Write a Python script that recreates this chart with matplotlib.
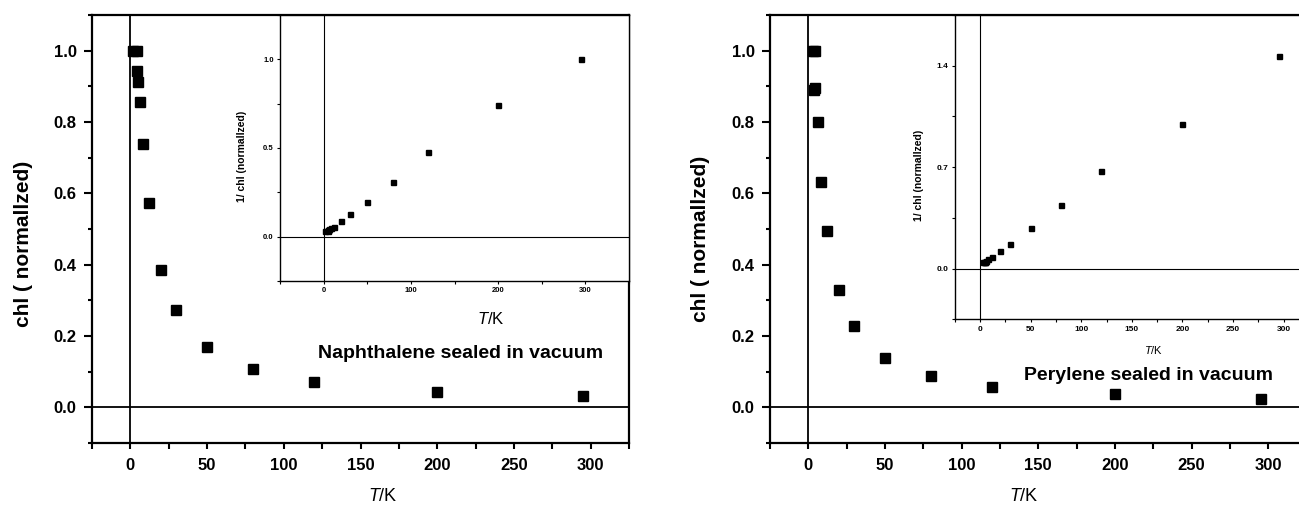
import numpy as np
import matplotlib
matplotlib.use("Agg")
import matplotlib.pyplot as plt
from matplotlib.ticker import MultipleLocator

plt.rcParams['font.family'] = ['Liberation Sans', 'DejaVu Sans']
plt.rcParams['mathtext.fontset'] = 'custom'
plt.rcParams['mathtext.it'] = 'Liberation Sans:italic'
plt.rcParams['mathtext.rm'] = 'Liberation Sans'

# naphthalene
naph_T = [2, 4.5, 4.5, 5, 6, 8, 12, 20, 30, 50, 80, 120, 200, 295]
naph_chi = [1.0, 1.0, 0.942, 0.911, 0.856, 0.739, 0.574, 0.384, 0.272, 0.169, 0.107, 0.071, 0.044, 0.031]
naph_inv = [0.032, 0.034, 0.036, 0.040, 0.043, 0.047, 0.057, 0.089, 0.126, 0.198, 0.311, 0.475, 0.740, 1.0]

# perylene
pery_T = [3, 4.5, 4, 4.5, 6, 8, 12, 20, 30, 50, 80, 120, 200, 295]
pery_chi = [1.0, 1.0, 0.889, 0.896, 0.799, 0.632, 0.494, 0.330, 0.227, 0.137, 0.089, 0.058, 0.037, 0.024]
pery_inv = [0.042, 0.044, 0.046, 0.048, 0.055, 0.065, 0.081, 0.120, 0.173, 0.282, 0.441, 0.672, 1.0, 1.467]

W, H = 1299, 505


def px_axes(fig, x0, y0, x1, y1):
    # pixel box (top-left origin) -> figure fraction
    return fig.add_axes([x0 / W, (H - y1) / H, (x1 - x0) / W, (y1 - y0) / H])


def main_panel(ax, T, chi, note, note_xy, xlab_x, ylab_x, ylab_y):
    ax.axhline(0, color='k', lw=1.3, zorder=1)
    ax.axvline(0, color='k', lw=1.3, zorder=1)
    ax.plot(T, chi, 's', color='k', ms=6.5, zorder=3)
    ax.set_xlim(-25, 325)
    ax.set_ylim(-0.1, 1.1)
    ax.xaxis.set_major_locator(MultipleLocator(50))
    ax.xaxis.set_minor_locator(MultipleLocator(25))
    ax.yaxis.set_major_locator(MultipleLocator(0.2))
    ax.yaxis.set_minor_locator(MultipleLocator(0.1))
    ax.yaxis.set_major_formatter(lambda v, p: f"{v:.1f}")
    ax.tick_params(which='both', direction='out', width=1.5)
    ax.tick_params(axis='y', which='major', length=6, labelsize=12, pad=5)
    ax.tick_params(axis='y', which='minor', length=3)
    ax.tick_params(axis='x', which='both', length=4.5, labelsize=12, pad=6)
    for t in ax.get_xticklabels() + ax.get_yticklabels():
        t.set_fontweight('bold')
    for s in ax.spines.values():
        s.set_linewidth(1.6)
    ax.set_xlabel(r"$\mathit{T}$/K", fontsize=13)
    ax.xaxis.set_label_coords(xlab_x, -0.126)
    ax.xaxis.label.set_verticalalignment('center')
    ax.set_ylabel("chl ( normallzed)", fontsize=15, fontweight='bold')
    ax.yaxis.set_label_coords(ylab_x, ylab_y)
    ax.yaxis.label.set_verticalalignment('center')
    ax.text(note_xy[0], note_xy[1], note, fontsize=14, fontweight='bold',
            ha='center', va='center')


def inset_panel(ax, T, inv, xlim, ylim, xmaj, ymaj, lab_size, xlab_xy, ylab_xy, xlab_size):
    ax.axhline(0, color='k', lw=0.8, zorder=1)
    ax.axvline(0, color='k', lw=0.8, zorder=1)
    ax.plot(T, inv, 's', color='k', ms=3.6, zorder=3)
    ax.set_xlim(*xlim)
    ax.set_ylim(*ylim)
    ax.xaxis.set_major_locator(MultipleLocator(xmaj))
    ax.xaxis.set_minor_locator(MultipleLocator(xmaj / 2))
    ax.yaxis.set_major_locator(MultipleLocator(ymaj))
    ax.yaxis.set_minor_locator(MultipleLocator(ymaj / 2))
    ax.yaxis.set_major_formatter(lambda v, p: f"{v:.1f}")
    ax.tick_params(which='both', direction='out', width=0.8, length=2.5,
                   labelsize=lab_size, pad=2)
    for t in ax.get_xticklabels() + ax.get_yticklabels():
        t.set_fontweight('bold')
    for s in ax.spines.values():
        s.set_linewidth(1.0)
    ax.set_xlabel(r"$\mathit{T}$/K", fontsize=xlab_size)
    ax.xaxis.set_label_coords(*xlab_xy)
    ax.xaxis.label.set_verticalalignment('center')
    ax.set_ylabel("1/ chl (normallzed)", fontsize=7.5, fontweight='bold')
    ax.yaxis.set_label_coords(*ylab_xy)
    ax.yaxis.label.set_verticalalignment('center')


fig = plt.figure(figsize=(W / 100, H / 100), dpi=100)

ax1 = px_axes(fig, 92, 15, 629, 443)
main_panel(ax1, naph_T, naph_chi, "Naphthalene sealed in vacuum", (215, 0.150),
           0.542, -0.127, 0.465)
in1 = px_axes(fig, 280, 15, 629, 281)
inset_panel(in1, naph_T, naph_inv, (-50, 350), (-0.25, 1.25), 100, 0.5, 5.5,
            (0.604, -0.144), (-0.109, 0.47), 12)

ax2 = px_axes(fig, 770, 15, 1306.6, 443)
main_panel(ax2, pery_T, pery_chi, "Perylene sealed in vacuum", (222, 0.089),
           0.473, -0.130, 0.477)
in2 = px_axes(fig, 954.7, 15, 1309, 319.3)
inset_panel(in2, pery_T, pery_inv, (-25, 325), (-0.35, 1.75), 50, 0.7, 6,
            (0.56, -0.101), (-0.10, 0.474), 8)

fig.savefig("out.png", dpi=100)
plt.close(fig)
